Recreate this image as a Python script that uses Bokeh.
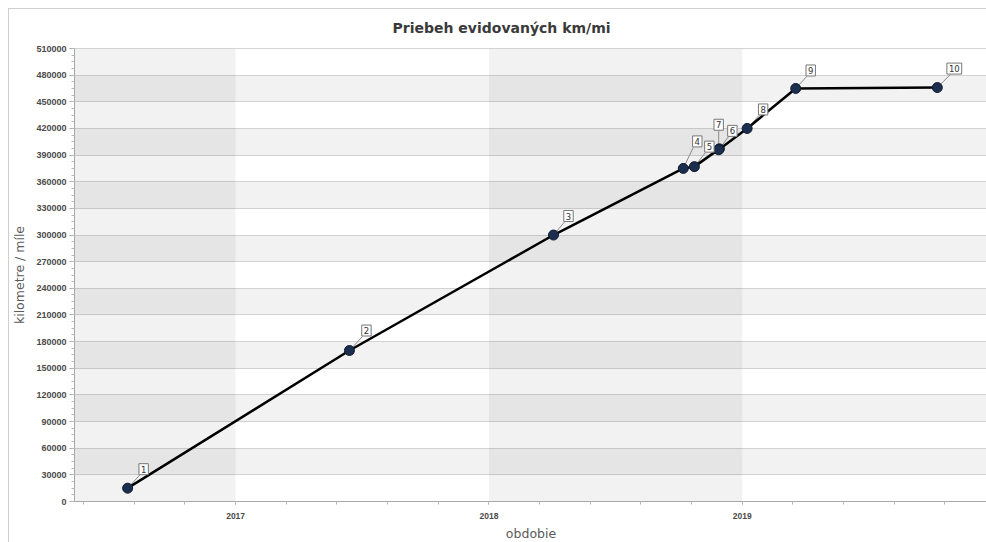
import math
import numpy as np
import pandas as pd
from bokeh.plotting import figure
from bokeh.models import (Range1d, FixedTicker, SingleIntervalTicker, NumeralTickFormatter,
                          BoxAnnotation, ColumnDataSource)
from bokeh.core.properties import value
from bokeh.embed import file_html
from bokeh.resources import INLINE

# ---- data ----
dates = ["2016-07-29", "2017-06-14", "2018-04-04", "2018-10-08", "2018-10-24",
         "2018-11-29", "2018-11-28", "2019-01-08", "2019-03-19", "2019-10-09"]
km = [15000, 170000, 300000, 375000, 377000, 397000, 396000, 420000, 465000, 466000]
labels = ["1", "2", "3", "4", "5", "6", "7", "8", "9", "10"]
year_ticks = [2017, 2018, 2019]
shaded_years = [2016, 2018]

# label offsets (screen px, right / up)
label_dx = [16, 17, 15, 14, 15, 13, 0, 16, 15, 17]
label_dy = [19, 20, 19, 27, 20, 18, 25, 19, 18, 19]


def dec_year(s):
    d = pd.Timestamp(s)
    a = pd.Timestamp(year=d.year, month=1, day=1)
    b = pd.Timestamp(year=d.year + 1, month=1, day=1)
    return d.year + (d - a) / (b - a)


xs = [dec_year(s) for s in dates]

# leader lines from point to the label box corner
ang, ln = [], []
for dx, dy in zip(label_dx, label_dy):
    ex = dx - 4 if dx > 6 else dx
    ey = dy - 6
    ang.append(math.atan2(ey, ex))
    ln.append(math.hypot(ex, ey))

src = ColumnDataSource(dict(x=xs, y=km, label=labels, dx=label_dx,
                            ndy=[-d for d in label_dy], ang=ang, ln=ln))

x_start, x_end = 2016.364, 2019.968
y_start, y_end = 0, 510000

p = figure(width=978, height=534, output_backend="svg", toolbar_location=None,
           x_range=Range1d(x_start, x_end), y_range=Range1d(y_start, y_end),
           min_border_left=65, min_border_right=0, min_border_top=38, min_border_bottom=42,
           background_fill_color="white", border_fill_color="white")

p.styles = {"margin-left": "8px", "margin-top": "8px",
            "border-left": "1px solid #cfcfcf", "border-top": "1px solid #cfcfcf"}

p.title.text = "Priebeh evidovaných km/mi"
p.title.align = "left"
p.title.offset = 318
p.title.text_font = "DejaVu Sans"
p.title.text_font_size = "14px"
p.title.text_font_style = "bold"
p.title.text_color = "#3a3a3a"
p.title.vertical_align = "top"
p.title.standoff = 21

p.outline_line_color = "#d6d6d6"

# grids / bands
p.xgrid.grid_line_color = None
p.ygrid.grid_line_color = "#d2d2d2"
p.ygrid.band_fill_color = "black"
p.ygrid.band_fill_alpha = 0.05

for yr in shaded_years:
    p.add_layout(BoxAnnotation(left=max(yr, x_start), right=min(yr + 1, x_end),
                               fill_color="black", fill_alpha=0.05, line_color=None,
                               level="underlay"))

# axes
minor = [round(v, 3) for v in np.arange(2016.4, 2020.0, 0.2) if x_start <= v <= x_end]
p.xaxis.ticker = FixedTicker(ticks=year_ticks, minor_ticks=minor)
p.xaxis.formatter = NumeralTickFormatter(format="0")
p.yaxis.ticker = SingleIntervalTicker(interval=30000, num_minor_ticks=4)
p.yaxis.formatter = NumeralTickFormatter(format="0")

for ax in (p.xaxis[0], p.yaxis[0]):
    ax.axis_line_color = "#a8a8a8"
    ax.major_tick_line_color = "#a8a8a8"
    ax.minor_tick_line_color = "#b8b8b8"
    ax.major_tick_in = 0
    ax.minor_tick_in = 0
    ax.major_label_text_font = "Liberation Sans"
    ax.major_label_text_font_style = "bold"
    ax.major_label_text_color = "#4a4a4a"
    ax.axis_label_text_font = "DejaVu Sans"
    ax.axis_label_text_font_style = "normal"
    ax.axis_label_text_font_size = "12.5px"
    ax.axis_label_text_color = "#5a5a5a"

p.yaxis.major_tick_out = 5
p.yaxis.minor_tick_out = 3
p.yaxis.major_label_standoff = 3
p.yaxis.major_label_text_font_size = "9px"
p.yaxis.axis_label = "kilometre / míle"
p.yaxis.axis_label_standoff = 6

p.xaxis.major_tick_out = 3
p.xaxis.minor_tick_out = 3
p.xaxis.major_label_standoff = 8
p.xaxis.major_label_text_font_size = "8.5px"
p.xaxis.axis_label = "obdobie"
p.xaxis.axis_label_standoff = 4

# marks
p.ray(x="x", y="y", length="ln", angle="ang", length_units="screen", angle_units="rad",
      source=src, line_color="#8a8a8a", line_width=1)
p.line(x="x", y="y", source=src, line_color="black", line_width=2.5)
p.scatter(x="x", y="y", source=src, size=10, fill_color="#1c2e4d", line_color="#0f1b30",
          line_width=1)
p.text(x="x", y="y", text="label", x_offset="dx", y_offset="ndy", source=src,
       text_font=value("DejaVu Sans"), text_font_size="8.5px", text_align="center",
       text_baseline="middle", text_color="#333333", background_fill_color="white",
       border_line_color="#777777", border_line_width=1, padding=2)

open("out.html", "w").write(file_html(p, INLINE))
